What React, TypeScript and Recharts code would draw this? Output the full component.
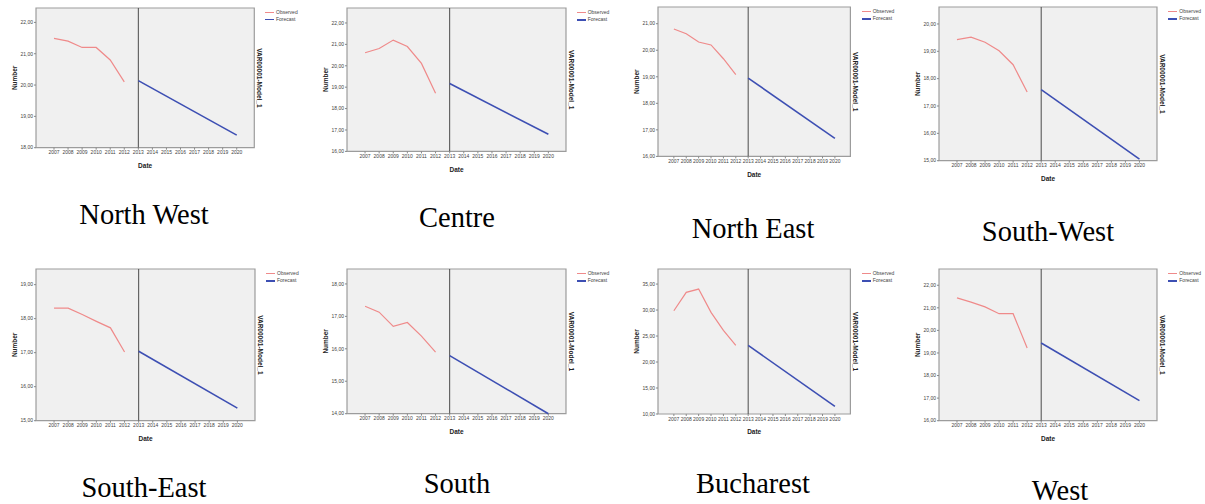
import React from "react";
import { LineChart, Line, XAxis, YAxis, ReferenceLine, ReferenceArea, Legend } from "recharts";

// years and tick labels
const observedYears = [2007, 2008, 2009, 2010, 2011, 2012];
const forecastYears = [2013, 2020];
const yearTicks = [2007, 2008, 2009, 2010, 2011, 2012, 2013, 2014, 2015, 2016, 2017, 2018, 2019, 2020];

const regions = ["North West", "Centre", "North East", "South-West", "South-East", "South", "Bucharest", "West"];

// values
const northWestObserved = [21.49, 21.4, 21.2, 21.2, 20.8, 20.1];
const northWestForecast = [20.14, 18.4];
const northWestTicks = [18, 19, 20, 21, 22];

const centreObserved = [20.61, 20.81, 21.2, 20.9, 20.11, 18.72];
const centreForecast = [19.17, 16.8];
const centreTicks = [16, 17, 18, 19, 20, 21, 22];

const northEastObserved = [20.8, 20.62, 20.31, 20.2, 19.68, 19.08];
const northEastForecast = [18.95, 16.68];
const northEastTicks = [16, 17, 18, 19, 20, 21];

const southWestObserved = [19.43, 19.52, 19.33, 19.02, 18.51, 17.51];
const southWestForecast = [17.6, 15.06];
const southWestTicks = [15, 16, 17, 18, 19, 20];

const southEastObserved = [18.31, 18.31, 18.12, 17.92, 17.73, 17.02];
const southEastForecast = [17.04, 15.37];
const southEastTicks = [15, 16, 17, 18, 19];

const southObserved = [17.31, 17.13, 16.69, 16.81, 16.39, 15.9];
const southForecast = [15.79, 14.0];
const southTicks = [14, 15, 16, 17, 18];

const bucharestObserved = [29.87, 33.4, 34.04, 29.55, 26.09, 23.2];
const bucharestForecast = [23.2, 11.47];
const bucharestTicks = [10, 15, 20, 25, 30, 35];

const westObserved = [21.44, 21.25, 21.04, 20.74, 20.74, 19.22];
const westForecast = [19.44, 16.89];
const westTicks = [16, 17, 18, 19, 20, 21, 22];

const observedSets = [northWestObserved, centreObserved, northEastObserved, southWestObserved, southEastObserved, southObserved, bucharestObserved, westObserved];
const forecastSets = [northWestForecast, centreForecast, northEastForecast, southWestForecast, southEastForecast, southForecast, bucharestForecast, westForecast];
const tickSets = [northWestTicks, centreTicks, northEastTicks, southWestTicks, southEastTicks, southTicks, bucharestTicks, westTicks];
// top of each value axis (axis runs a bit past the last tick)
const yTops = [22.46, 22.7, 21.63, 20.62, 19.46, 18.46, 37.9, 22.72];
const xDomain = [2005.72, 2021.25];

// plot box [left, top, width, height] and caption [centerX, baseline] on the page
const layouts = [
  { plot: [35.7, 8, 218.3, 139.7], caption: [144, 224] },
  { plot: [346.7, 8.3, 219, 143.4], caption: [457, 226.5] },
  { plot: [658.3, 7.3, 192.4, 149.4], caption: [753, 237.5] },
  { plot: [939.3, 7.3, 218, 153.7], caption: [1048, 240.5] },
  { plot: [36, 269.3, 219, 151.7], caption: [144, 496.7] },
  { plot: [346.7, 269.3, 219, 144.7], caption: [457, 492.5] },
  { plot: [658.3, 269.3, 192.4, 145], caption: [753, 492.5] },
  { plot: [939.3, 269.3, 218, 151.7], caption: [1060, 499.5] },
];

const FONT = '"Liberation Sans", Arial, sans-serif';
const SERIF = '"Liberation Serif", "Times New Roman", serif';
const OBS_COLOR = "#ef8a8a";
const FC_COLOR = "#3d4fb3";

const Y_AXIS_W = 36;
const RIGHT_AXIS_W = 10;
const TOP = 5;
const X_AXIS_H = 28;
const RIGHT_MARGIN = 44;

const fmt = (v: number) => v.toFixed(2).replace(".", ",");

const LegendBox = () => (
  <div style={{ fontFamily: FONT, fontSize: 5, color: "#444", lineHeight: "7px", whiteSpace: "nowrap" }}>
    <div style={{ display: "flex", alignItems: "center" }}>
      <span style={{ display: "inline-block", width: 9, height: 1.3, background: OBS_COLOR, marginRight: 2 }} />
      Observed
    </div>
    <div style={{ display: "flex", alignItems: "center" }}>
      <span style={{ display: "inline-block", width: 9, height: 1.8, background: FC_COLOR, marginRight: 2 }} />
      Forecast
    </div>
  </div>
);

const Panel = ({ idx }: { idx: number }) => {
  const [px, py, pw, ph] = layouts[idx].plot;
  const obs = observedSets[idx];
  const fc = forecastSets[idx];
  const ticks = tickSets[idx];
  const yDomain = [ticks[0], yTops[idx]];

  const data = [
    ...observedYears.map((year, i) => ({ year, observed: obs[i], forecast: null as number | null })),
    ...forecastYears.map((year, i) => ({ year, observed: null as number | null, forecast: fc[i] })),
  ];

  const width = Y_AXIS_W + pw + RIGHT_AXIS_W + RIGHT_MARGIN;
  const height = TOP + ph + X_AXIS_H;

  return (
    <div style={{ position: "absolute", left: px - Y_AXIS_W, top: py - TOP }}>
      <LineChart width={width} height={height} data={data} margin={{ top: TOP, right: RIGHT_MARGIN, bottom: 0, left: 0 }}>
        <ReferenceArea
          x1={xDomain[0]}
          x2={xDomain[1]}
          y1={yDomain[0]}
          y2={yDomain[1]}
          fill="#f0f0f0"
          fillOpacity={1}
          stroke="#9c9c9c"
          strokeWidth={1.2}
        />
        <XAxis
          dataKey="year"
          type="number"
          domain={xDomain}
          ticks={yearTicks}
          interval={0}
          height={X_AXIS_H}
          axisLine={false}
          tickSize={2}
          tickMargin={1}
          tickLine={{ stroke: "#888" }}
          tick={{ fontSize: 5, fill: "#444", fontFamily: FONT }}
          label={{ value: "Date", position: "center", dy: 4, style: { fontSize: 6.5, fontWeight: "bold", fill: "#222", fontFamily: FONT } }}
        />
        <YAxis
          type="number"
          domain={yDomain}
          ticks={ticks}
          width={Y_AXIS_W}
          axisLine={false}
          tickSize={2}
          tickMargin={1}
          tickLine={{ stroke: "#888" }}
          tickFormatter={fmt}
          tick={{ fontSize: 5, fill: "#444", fontFamily: FONT }}
          label={{ value: "Number", angle: -90, position: "center", dx: -3, style: { fontSize: 6.5, fontWeight: "bold", fill: "#222", fontFamily: FONT } }}
        />
        <YAxis
          yAxisId="right"
          orientation="right"
          type="number"
          domain={[0, 1]}
          width={RIGHT_AXIS_W}
          axisLine={false}
          tickLine={false}
          tick={false}
          label={{ value: "VAR00001-Model_1", angle: 90, position: "center", style: { fontSize: 6.5, fontWeight: "bold", fill: "#222", fontFamily: FONT } }}
        />
        <ReferenceLine x={2013} stroke="#4a4a4a" strokeWidth={1} />
        <Line dataKey="observed" stroke={OBS_COLOR} strokeWidth={1.2} dot={false} isAnimationActive={false} />
        <Line dataKey="forecast" stroke={FC_COLOR} strokeWidth={1.6} dot={false} isAnimationActive={false} />
        <Legend
          layout="vertical"
          align="center"
          verticalAlign="middle"
          content={LegendBox}
          wrapperStyle={{ left: Y_AXIS_W + pw + 11, top: TOP + 1, width: 40, height: 14 }}
        />
      </LineChart>
    </div>
  );
};

const App: React.FC = () => {
  return (
    <div style={{ position: "absolute", left: 0, top: 0, width: 1205, height: 504, background: "#fff" }}>
      {regions.map((r, i) => (
        <Panel key={r} idx={i} />
      ))}
      <svg width={1205} height={504} style={{ position: "absolute", left: 0, top: 0, pointerEvents: "none" }}>
        {regions.map((r, i) => (
          <text key={r} x={layouts[i].caption[0]} y={layouts[i].caption[1]} textAnchor="middle" fontFamily={SERIF} fontSize={28.5} fill="#000">
            {r}
          </text>
        ))}
      </svg>
    </div>
  );
};

export default App;
